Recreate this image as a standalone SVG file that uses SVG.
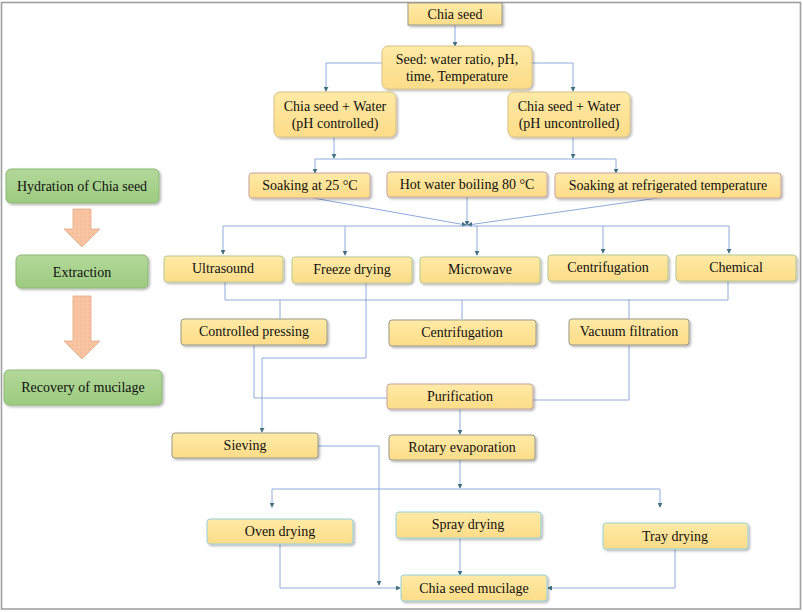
<svg xmlns="http://www.w3.org/2000/svg" width="803" height="612" viewBox="0 0 803 612">
<defs>
<linearGradient id="gy" x1="0" y1="0" x2="0" y2="1">
<stop offset="0" stop-color="#ffeaa6"/><stop offset="1" stop-color="#fcdc88"/>
</linearGradient>
<linearGradient id="gg" x1="0" y1="0" x2="0" y2="1">
<stop offset="0" stop-color="#b3d89a"/><stop offset="1" stop-color="#9ccb7f"/>
</linearGradient>
<pattern id="dots" width="4" height="4" patternUnits="userSpaceOnUse">
<rect width="4" height="4" fill="#f8c4a2"/><circle cx="1" cy="1" r="0.6" fill="#e9a883"/>
</pattern>
<filter id="sh" x="-10%" y="-20%" width="130%" height="160%">
<feDropShadow dx="1.5" dy="1.5" stdDeviation="1" flood-color="#000" flood-opacity="0.3"/>
</filter>
<marker id="ah" viewBox="0 0 6 6" refX="5" refY="3" markerWidth="5" markerHeight="5" markerUnits="userSpaceOnUse" orient="auto">
<path d="M0,0 L6,3 L0,6 z" fill="#41707e"/>
</marker>
</defs>
<style>
.n rect{fill:url(#gy);stroke-width:1;filter:url(#sh)}
.gr rect{stroke:#9a9a8a}
.pk rect{stroke:#c7a3a3}
.cy rect{stroke:#94d2de}
.gn rect{stroke:#b9c98f}
.lt rect{stroke:#d9c184}
.lg rect{fill:url(#gg);stroke:#8db877;stroke-width:1;filter:url(#sh)}
text{font-family:"Liberation Serif","Times New Roman",serif;font-size:14px;fill:#111;text-anchor:middle}
.c path,.c line{fill:none;stroke:#8eaadb;stroke-width:1}
.c .a{marker-end:url(#ah)}
.ar{fill:url(#dots);stroke:#e3a987;stroke-width:0.8}
</style>
<rect x="1.5" y="2.5" width="799" height="606.5" fill="#fff" stroke="#a0a0a0" stroke-width="1.6"/>

<g id="connectors" class="c">
<path class="a" d="M455,25 V46"/>
<path class="a" d="M382,63 H326 V91"/>
<path class="a" d="M532,63 H573 V91"/>
<path class="a" d="M334,137 V158"/>
<path class="a" d="M573,137 V158"/>
<path d="M315,159 H616"/>
<path class="a" d="M315,159 V173"/>
<path class="a" d="M616,159 V173"/>
<path class="a" d="M313,198 L466,225"/>
<path class="a" d="M467,197 V225"/>
<path class="a" d="M658,198 L468,225"/>
<path d="M223,226 H729"/>
<path class="a" d="M223,226 V254"/>
<path class="a" d="M345,226 V255"/>
<path class="a" d="M477,226 V255"/>
<path class="a" d="M603,226 V253"/>
<path class="a" d="M729,226 V253"/>
<path d="M225,282 V300 H728 V281"/>
<path d="M280,300 V319"/>
<path d="M462,300 V319"/>
<path d="M629,300 V319"/>
<path class="a" d="M366,283 V358 H262 V432"/>
<path d="M254,345 V398 H387"/>
<path d="M629,345 V400 H533"/>
<path class="a" d="M460,409 V434"/>
<path class="a" d="M318,446 H379 V585"/>
<path class="a" d="M460,460 V488"/>
<path d="M272,489 H660"/>
<path class="a" d="M272,489 V507"/>
<path class="a" d="M660,489 V507"/>
<path class="a" d="M280,544 V588 H400"/>
<path class="a" d="M460,538 V575"/>
<path class="a" d="M675,549 V588 H548"/>
</g>

<g id="chia-seed" class="n gr"><rect x="408" y="3" width="94" height="22"/><text x="455" y="19">Chia seed</text></g>
<g id="seed-ratio" class="n lt"><rect x="382" y="46" width="150" height="43" rx="6"/><text x="457" y="64">Seed: water ratio, pH,</text><text x="457" y="81">time, Temperature</text></g>
<g id="ph-controlled" class="n lt"><rect x="274" y="92" width="122" height="45" rx="6"/><text x="335" y="111">Chia seed + Water</text><text x="335" y="128">(pH controlled)</text></g>
<g id="ph-uncontrolled" class="n lt"><rect x="508" y="92" width="122" height="45" rx="6"/><text x="569" y="111">Chia seed + Water</text><text x="569" y="128">(pH uncontrolled)</text></g>

<g id="soak25" class="n pk"><rect x="249" y="173" width="121" height="25" rx="3"/><text x="310" y="190">Soaking at 25 °C</text></g>
<g id="hotwater" class="n pk"><rect x="387" y="172" width="160" height="25" rx="3"/><text x="467" y="189">Hot water boiling 80 °C</text></g>
<g id="soakfridge" class="n pk"><rect x="555" y="173" width="226" height="25" rx="3"/><text x="668" y="190">Soaking at refrigerated temperature</text></g>

<g id="ultrasound" class="n gn"><rect x="164" y="256" width="119" height="26" rx="3"/><text x="223" y="273">Ultrasound</text></g>
<g id="freeze" class="n gn"><rect x="292" y="257" width="120" height="26" rx="3"/><text x="352" y="274">Freeze drying</text></g>
<g id="microwave" class="n gn"><rect x="420" y="257" width="120" height="26" rx="3"/><text x="480" y="274">Microwave</text></g>
<g id="centrif1" class="n gn"><rect x="548" y="255" width="120" height="26" rx="3"/><text x="608" y="272">Centrifugation</text></g>
<g id="chemical" class="n gn"><rect x="676" y="255" width="120" height="26" rx="3"/><text x="736" y="272">Chemical</text></g>

<g id="pressing" class="n gr"><rect x="181" y="319" width="146" height="26" rx="3"/><text x="254" y="336">Controlled pressing</text></g>
<g id="centrif2" class="n gr"><rect x="389" y="320" width="147" height="26" rx="3"/><text x="462" y="337">Centrifugation</text></g>
<g id="vacuum" class="n gr"><rect x="569" y="319" width="120" height="26" rx="3"/><text x="629" y="336">Vacuum filtration</text></g>

<g id="purification" class="n pk"><rect x="387" y="384" width="146" height="25" rx="3"/><text x="460" y="401">Purification</text></g>
<g id="sieving" class="n gr"><rect x="172" y="433" width="146" height="25" rx="3"/><text x="245" y="450">Sieving</text></g>
<g id="rotary" class="n gr"><rect x="389" y="435" width="146" height="25" rx="3"/><text x="462" y="452">Rotary evaporation</text></g>

<g id="oven" class="n cy"><rect x="207" y="519" width="146" height="25" rx="3"/><text x="280" y="536">Oven drying</text></g>
<g id="spray" class="n cy"><rect x="396" y="512" width="145" height="26" rx="3"/><text x="468" y="529">Spray drying</text></g>
<g id="tray" class="n cy"><rect x="603" y="523" width="145" height="26" rx="3"/><text x="675" y="541">Tray drying</text></g>
<g id="mucilage" class="n cy"><rect x="401" y="575" width="146" height="26" rx="3"/><text x="474" y="593">Chia seed mucilage</text></g>

<g id="legend-hydration" class="lg"><rect x="6" y="169" width="153" height="34" rx="5"/><text x="82" y="191">Hydration of Chia seed</text></g>
<path id="legend-arrow1" class="ar" d="M73,209 H91 V229 H100 L82,247 L64,229 H73 Z"/>
<g id="legend-extraction" class="lg"><rect x="16" y="255" width="132" height="33" rx="5"/><text x="82" y="277">Extraction</text></g>
<path id="legend-arrow2" class="ar" d="M73,296 H91 V341 H100 L82,359 L64,341 H73 Z"/>
<g id="legend-recovery" class="lg"><rect x="4" y="370" width="158" height="35" rx="5"/><text x="83" y="392">Recovery of mucilage</text></g>
</svg>
